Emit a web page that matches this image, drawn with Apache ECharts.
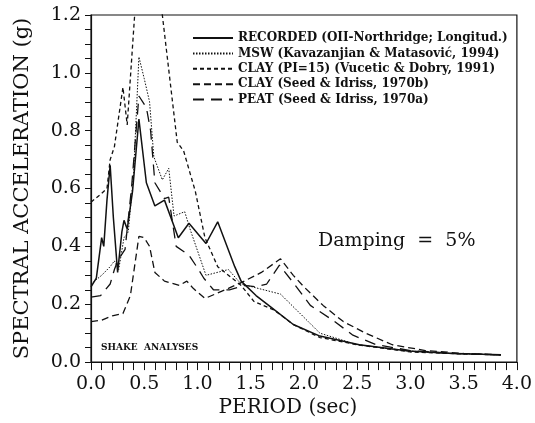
<!DOCTYPE html>
<html>
<head>
<meta charset="utf-8">
<script src="https://cdn.jsdelivr.net/npm/echarts@6/dist/echarts.min.js"></script>
<style>
  html,body{margin:0;padding:0;background:#fff;}
  #chart{width:535px;height:423px;}
</style>
</head>
<body>
<div id="chart"></div>
<script>
// values (period in sec, Sa in g)
var recordedX = [0, 0.05, 0.1, 0.12, 0.15, 0.18, 0.21, 0.25, 0.29, 0.31, 0.34, 0.39, 0.45, 0.52, 0.6, 0.69, 0.82, 0.92, 1.08, 1.19, 1.35, 1.41, 1.55, 1.69, 1.9, 2.15, 2.52, 2.98, 3.4, 3.85];
var recordedY = [0.26, 0.29, 0.43, 0.4, 0.56, 0.68, 0.5, 0.31, 0.45, 0.49, 0.46, 0.59, 0.84, 0.62, 0.54, 0.56, 0.43, 0.48, 0.41, 0.485, 0.33, 0.28, 0.23, 0.19, 0.13, 0.09, 0.06, 0.038, 0.03, 0.025];

var mswX = [0, 0.1, 0.18, 0.22, 0.26, 0.31, 0.35, 0.4, 0.45, 0.5, 0.55, 0.59, 0.67, 0.73, 0.78, 0.88, 0.93, 1.08, 1.29, 1.41, 1.78, 2.15, 2.5, 3.0, 3.4, 3.85];
var mswY = [0.27, 0.3, 0.33, 0.35, 0.32, 0.43, 0.45, 0.65, 1.055, 0.98, 0.9, 0.71, 0.63, 0.67, 0.505, 0.52, 0.46, 0.3, 0.32, 0.27, 0.235, 0.1, 0.06, 0.038, 0.03, 0.025];

var clayPiX = [0, 0.09, 0.15, 0.18, 0.22, 0.3, 0.34, 0.41, 0.5, 0.6, 0.67, 0.81, 0.87, 0.98, 1.07, 1.19, 1.41, 1.53, 1.72, 1.9, 2.15, 2.5, 3.0, 3.5, 3.85];
var clayPiY = [0.553, 0.58, 0.6, 0.7, 0.745, 0.95, 0.82, 1.2, 1.45, 1.45, 1.2, 0.76, 0.73, 0.59, 0.43, 0.33, 0.265, 0.21, 0.18, 0.13, 0.085, 0.06, 0.035, 0.028, 0.025];

var claySeedX = [0, 0.1, 0.2, 0.3, 0.37, 0.45, 0.5, 0.55, 0.6, 0.69, 0.83, 0.9, 0.96, 1.07, 1.29, 1.44, 1.6, 1.78, 1.9, 2.0, 2.18, 2.37, 2.58, 2.83, 3.14, 3.5, 3.85];
var claySeedY = [0.14, 0.145, 0.16, 0.168, 0.23, 0.435, 0.43, 0.4, 0.31, 0.28, 0.265, 0.28, 0.255, 0.22, 0.255, 0.28, 0.31, 0.357, 0.3, 0.26, 0.196, 0.14, 0.1, 0.06, 0.04, 0.03, 0.025];

var peatX = [0, 0.09, 0.18, 0.22, 0.25, 0.32, 0.38, 0.45, 0.52, 0.56, 0.6, 0.69, 0.73, 0.8, 0.92, 1.01, 1.06, 1.15, 1.3, 1.44, 1.55, 1.65, 1.77, 1.92, 2.06, 2.27, 2.46, 2.68, 3.0, 3.4, 3.85];
var peatY = [0.225, 0.23, 0.27, 0.32, 0.35, 0.39, 0.6, 0.92, 0.88, 0.8, 0.62, 0.565, 0.57, 0.4, 0.37, 0.32, 0.29, 0.25, 0.25, 0.265, 0.26, 0.27, 0.335, 0.265, 0.196, 0.145, 0.093, 0.06, 0.04, 0.03, 0.025];

var seriesNames = [
  'RECORDED (OII-Northridge; Longitud.)',
  'MSW (Kavazanjian & Matasović, 1994)',
  'CLAY (PI=15) (Vucetic & Dobry, 1991)',
  'CLAY (Seed & Idriss, 1970b)',
  'PEAT (Seed & Idriss, 1970a)'
];

function pairs(xs, ys){
  return xs.map(function(x, i){ return [x, ys[i]]; });
}

var serif = 'DejaVu Serif';

function lineSeries(name, data, width, dash){
  return {
    name: name,
    type: 'line',
    data: data,
    symbol: 'none',
    clip: true,
    itemStyle: { color: '#111' },
    lineStyle: { color: '#111', width: width, type: dash }
  };
}

var chart = echarts.init(document.getElementById('chart'));
chart.setOption({
  backgroundColor: '#fff',
  animation: false,
  color: ['#111'],
  grid: {
    left: 91, right: 12, top: 15, bottom: 59,
    show: true, borderColor: '#111', borderWidth: 1.2
  },
  legend: {
    orient: 'vertical',
    left: 187, top: 27,
    itemWidth: 40, itemHeight: 10, itemGap: 3.4,
    itemStyle: { opacity: 0 },
    textStyle: { fontFamily: serif, fontSize: 12, fontWeight: 'bold', color: '#111' },
    data: seriesNames
  },
  xAxis: {
    type: 'value',
    min: 0, max: 4, interval: 0.5,
    name: 'PERIOD (sec)',
    nameLocation: 'middle',
    nameGap: 32,
    nameTextStyle: { fontFamily: serif, fontSize: 20, color: '#111', padding: [0, 32, 0, 0] },
    axisLine: { lineStyle: { color: '#111', width: 1.2 } },
    axisTick: { inside: false, length: 8, lineStyle: { color: '#111' } },
    minorTick: { show: true, splitNumber: 5, length: 8, lineStyle: { color: '#111' } },
    splitLine: { show: false },
    axisLabel: {
      margin: 12, fontFamily: serif, fontSize: 19, color: '#111',
      formatter: function(v){ return v.toFixed(1); }
    }
  },
  yAxis: {
    type: 'value',
    min: 0, max: 1.2, interval: 0.2,
    name: 'SPECTRAL ACCELERATION (g)',
    nameLocation: 'middle',
    nameGap: 58,
    nameTextStyle: { fontFamily: serif, fontSize: 21, color: '#111' },
    axisLine: { show: true, lineStyle: { color: '#111', width: 1.2 } },
    axisTick: { inside: false, length: 6, lineStyle: { color: '#111' } },
    minorTick: { show: true, splitNumber: 4, length: 6, lineStyle: { color: '#111' } },
    splitLine: { show: false },
    axisLabel: {
      margin: 10, fontFamily: serif, fontSize: 19, color: '#111',
      formatter: function(v){ return v.toFixed(1); }
    }
  },
  graphic: [
    {
      type: 'text', left: 318, top: 232,
      style: { text: 'Damping  =  5%', font: '19px "DejaVu Serif"', fill: '#111' }
    },
    {
      type: 'text', left: 101, top: 343,
      style: { text: 'SHAKE  ANALYSES', font: 'bold 9px "DejaVu Serif"', fill: '#111' }
    }
  ],
  series: [
    lineSeries(seriesNames[0], pairs(recordedX, recordedY), 1.5, 'solid'),
    lineSeries(seriesNames[1], pairs(mswX, mswY), 1, [1.5, 1.5]),
    lineSeries(seriesNames[2], pairs(clayPiX, clayPiY), 1.3, [4, 3]),
    lineSeries(seriesNames[3], pairs(claySeedX, claySeedY), 1.3, [7, 4]),
    lineSeries(seriesNames[4], pairs(peatX, peatY), 1.3, [11, 7])
  ]
});
</script>
</body>
</html>
